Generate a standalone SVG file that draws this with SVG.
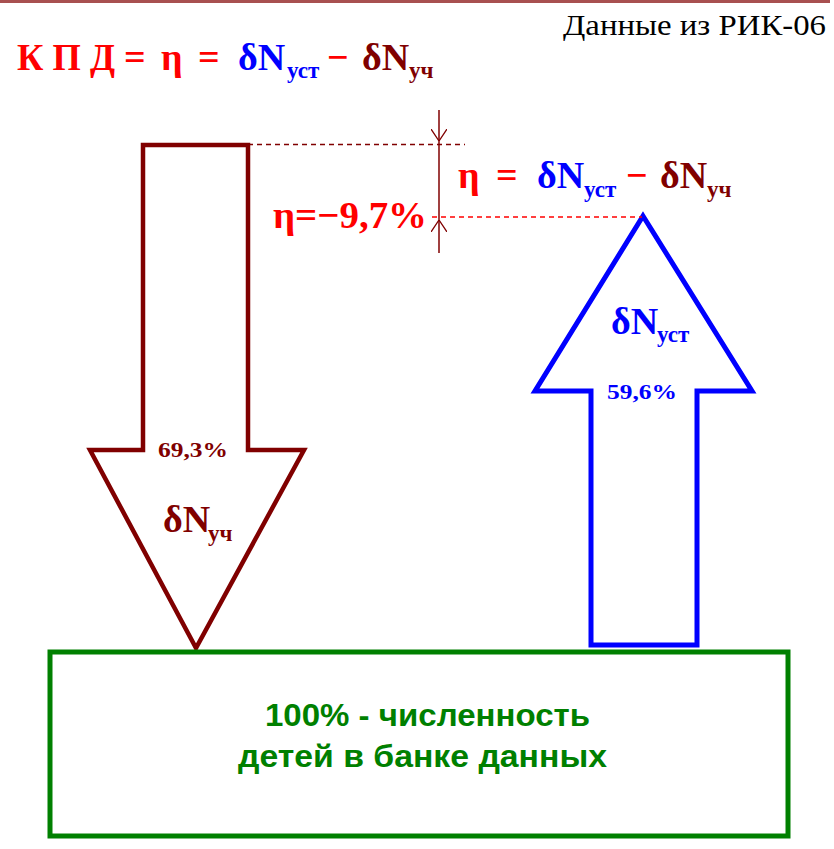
<svg xmlns="http://www.w3.org/2000/svg" width="834" height="849" viewBox="0 0 834 849">
<style>
.f{font-weight:bold}
.big{font-size:38px}
.sub{font-size:23px}
.pct{font-size:21px}
.red{fill:#ff0000}
.blue{fill:#0000ff}
.dred{fill:#800000}
.box{font-weight:bold;font-size:31px;fill:#008000}
</style>
<defs>
<marker id="openv" viewBox="0 0 12 16" refX="12" refY="8" markerWidth="12" markerHeight="16" markerUnits="userSpaceOnUse" orient="auto">
<path d="M0,0 L12,8 L0,16" fill="none" stroke="#800000" stroke-width="1.3"/>
</marker>
</defs>
<rect width="834" height="849" fill="#ffffff"/>
<line x1="0" y1="1.5" x2="830" y2="1.5" stroke="#a85050" stroke-width="3"/>

<g id="source" font-family="Liberation Serif, serif">
<text x="563" y="35" font-size="30" fill="#000000" textLength="263" lengthAdjust="spacingAndGlyphs">Данные из РИК-06</text>
</g>

<g id="title" font-family="Liberation Serif, serif">
<text class="f big red" x="17" y="70" textLength="98" lengthAdjust="spacingAndGlyphs">К П Д</text>
<text class="f big red" x="124" y="70">=</text>
<text class="f big red" x="161" y="70">η</text>
<text class="f big red" x="198" y="70">=</text>
<text class="f big blue" x="238" y="70">δN</text>
<text class="f sub blue" x="287" y="78">уст</text>
<text class="f big red" x="327" y="70">−</text>
<text class="f big dred" x="362" y="70">δN</text>
<text class="f sub dred" x="409" y="78">уч</text>
</g>

<g id="arrow-down" font-family="Liberation Serif, serif">
<polygon points="143,145 248,145 248,450 304,450 196,648 90,450 143,450" fill="#ffffff" stroke="#800000" stroke-width="4.5"/>
<text class="f pct dred" x="158" y="457" textLength="70" lengthAdjust="spacingAndGlyphs">69,3%</text>
<text class="f big dred" x="163" y="532">δN</text>
<text class="f sub dred" x="208" y="541">уч</text>
</g>

<g id="arrow-up" font-family="Liberation Serif, serif">
<polygon points="643,216 752,391 697,391 697,645 591,645 591,391 535,391" fill="#ffffff" stroke="#0000ff" stroke-width="5"/>
<text class="f big blue" x="611" y="334">δN</text>
<text class="f sub blue" x="657" y="342">уст</text>
<text class="f pct blue" x="607" y="399" textLength="70" lengthAdjust="spacingAndGlyphs">59,6%</text>
</g>

<g id="base-box" font-family="Liberation Sans, Arial, sans-serif">
<rect x="50" y="652" width="738" height="184" fill="none" stroke="#008000" stroke-width="5"/>
<text class="box" x="265" y="726" textLength="325" lengthAdjust="spacingAndGlyphs">100% - численность</text>
<text class="box" x="238" y="767" textLength="369" lengthAdjust="spacingAndGlyphs">детей в банке данных</text>
</g>

<g id="connectors">
<line x1="248" y1="144.5" x2="465" y2="144.5" stroke="#800000" stroke-width="1.3" stroke-dasharray="5,4"/>
<line x1="432" y1="217" x2="642" y2="217" stroke="#ff0000" stroke-width="1.3" stroke-dasharray="5,4"/>
<line x1="439" y1="140" x2="439" y2="221" stroke="#800000" stroke-width="1.5"/>
<path d="M439,110 L439,141" fill="none" stroke="#800000" stroke-width="1.5" marker-end="url(#openv)"/>
<path d="M439,253 L439,220" fill="none" stroke="#800000" stroke-width="1.5" marker-end="url(#openv)"/>
</g>

<g id="formula" font-family="Liberation Serif, serif">
<text class="f big red" x="458" y="188">η</text>
<text class="f big red" x="496" y="188">=</text>
<text class="f big blue" x="537" y="188">δN</text>
<text class="f sub blue" x="584" y="197">уст</text>
<text class="f big red" x="626" y="188">−</text>
<text class="f big dred" x="660" y="188">δN</text>
<text class="f sub dred" x="707" y="197">уч</text>
</g>

<g id="eta-value" font-family="Liberation Serif, serif">
<text class="f big red" x="273" y="228" textLength="154" lengthAdjust="spacingAndGlyphs">η=−9,7%</text>
</g>
</svg>
